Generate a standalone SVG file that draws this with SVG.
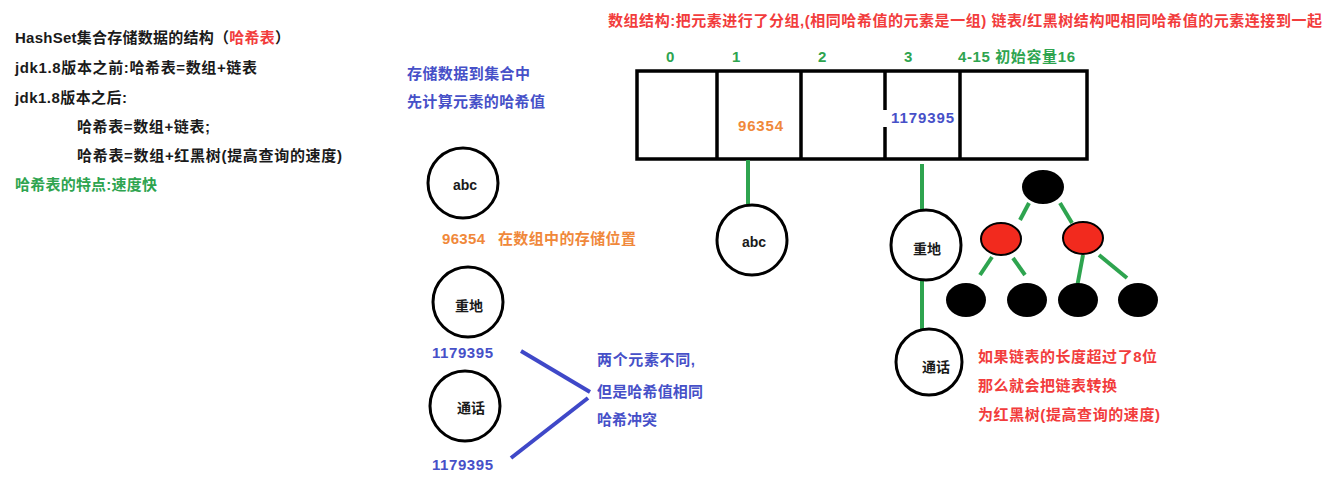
<svg xmlns="http://www.w3.org/2000/svg" width="1334" height="479" viewBox="0 0 1334 479">
<style>
text{font-family:"Liberation Sans","Noto Sans CJK SC",sans-serif;font-weight:bold;font-size:15px}
.k{fill:#1a1a1a}.r{fill:#f23c3c}.o{fill:#f0883a}.b{fill:#4650c8}.g{fill:#2ea44f}
.c{fill:#fff;stroke:#000;stroke-width:3}
.tn{fill:#000}.tr{fill:#f22a1e;stroke:#000;stroke-width:2}
.gl{stroke:#2ea44f;stroke-width:4;fill:none}
.bl{stroke:#3f48c8;stroke-width:4;fill:none}
.box{fill:#fff;stroke:#000;stroke-width:3.5}
.ct{font-size:14px;fill:#1a1a1a}
</style>
<rect width="1334" height="479" fill="#fff"/>
<g id="notes-left">
<text class="k" x="15" y="43" textLength="275">HashSet集合存储数据的结构（<tspan class="r">哈希表</tspan>）</text>
<text class="k" x="15" y="73" textLength="242">jdk1.8版本之前:哈希表=数组+链表</text>
<text class="k" x="15" y="103" textLength="112">jdk1.8版本之后:</text>
<text class="k" x="77" y="132" textLength="133">哈希表=数组+链表;</text>
<text class="k" x="77" y="161" textLength="265">哈希表=数组+红黑树(提高查询的速度)</text>
<text class="g" x="15" y="190" textLength="142">哈希表的特点:速度快</text>
</g>
<g id="notes-blue">
<text class="b" x="407" y="79" textLength="123">存储数据到集合中</text>
<text class="b" x="407" y="107" textLength="138">先计算元素的哈希值</text>
</g>
<g id="title-red">
<text class="r" x="608" y="26" textLength="714">数组结构:把元素进行了分组,(相同哈希值的元素是一组) 链表/红黑树结构吧相同哈希值的元素连接到一起</text>
</g>
<g id="indices">
<text class="g" x="666" y="62">0</text>
<text class="g" x="732" y="62">1</text>
<text class="g" x="818" y="62">2</text>
<text class="g" x="904" y="62">3</text>
<text class="g" x="958" y="62" textLength="117">4-15 初始容量16</text>
</g>
<g id="array">
<rect class="box" x="637" y="71" width="450" height="88"/>
<line x1="717" y1="71" x2="717" y2="159" stroke="#000" stroke-width="3.5"/>
<line x1="801" y1="71" x2="801" y2="159" stroke="#000" stroke-width="3.5"/>
<line x1="885" y1="71" x2="885" y2="159" stroke="#000" stroke-width="3.5"/>
<line x1="960" y1="71" x2="960" y2="159" stroke="#000" stroke-width="3.5"/>
<rect x="882" y="110" width="6" height="17" fill="#fff"/>
<text class="o" x="738" y="131" textLength="45">96354</text>
<text class="b" x="891" y="123" textLength="63">1179395</text>
</g>
<g id="connectors">
<line class="gl" x1="748" y1="160" x2="748" y2="204"/>
<line class="gl" x1="922" y1="164" x2="922" y2="210"/>
<line class="gl" x1="922" y1="280" x2="922" y2="329"/>
<line class="gl" x1="1029" y1="203" x2="1020" y2="220"/>
<line class="gl" x1="1060" y1="203" x2="1072" y2="223"/>
<line class="gl" x1="992" y1="257" x2="980" y2="275"/>
<line class="gl" x1="1013" y1="258" x2="1025" y2="275"/>
<line class="gl" x1="1083" y1="255" x2="1077" y2="287"/>
<line class="gl" x1="1099" y1="255" x2="1127" y2="278"/>
<line class="bl" x1="521" y1="351" x2="590" y2="392"/>
<line class="bl" x1="588" y1="398" x2="511" y2="458"/>
</g>
<g id="node-abc-left"><circle class="c" cx="463" cy="183" r="35"/><text class="ct" x="453" y="190">abc</text></g>
<g id="node-zhongdi-left"><circle class="c" cx="468" cy="302" r="35"/><text class="ct" x="455" y="311">重地</text></g>
<g id="node-tonghua-left"><circle class="c" cx="465" cy="406" r="35"/><text class="ct" x="457" y="413">通话</text></g>
<g id="node-abc-right"><circle class="c" cx="752" cy="240" r="35"/><text class="ct" x="742" y="247">abc</text></g>
<g id="node-zhongdi-right"><circle class="c" cx="926" cy="245" r="35"/><text class="ct" x="913" y="254">重地</text></g>
<g id="node-tonghua-right"><circle class="c" cx="929" cy="362" r="33"/><text class="ct" x="922" y="372">通话</text></g>
<g id="tree">
<ellipse class="tn" cx="1043" cy="187" rx="21" ry="17"/>
<ellipse class="tr" cx="1001" cy="239" rx="20" ry="16"/>
<ellipse class="tr" cx="1083" cy="238" rx="20" ry="16"/>
<ellipse class="tn" cx="966" cy="300" rx="20" ry="17"/>
<ellipse class="tn" cx="1027" cy="300" rx="20" ry="17"/>
<ellipse class="tn" cx="1078" cy="300" rx="20" ry="17"/>
<ellipse class="tn" cx="1138" cy="300" rx="20" ry="17"/>
</g>
<g id="labels-left">
<text class="o" x="442" y="244" textLength="43">96354</text>
<text class="o" x="498" y="244" textLength="138">在数组中的存储位置</text>
<text class="b" x="432" y="358" textLength="61">1179395</text>
<text class="b" x="432" y="470" textLength="61">1179395</text>
<text class="b" x="597" y="365" textLength="98">两个元素不同,</text>
<text class="b" x="597" y="397" textLength="106">但是哈希值相同</text>
<text class="b" x="597" y="425" textLength="60">哈希冲突</text>
</g>
<g id="notes-red-right">
<text class="r" x="978" y="362" textLength="179">如果链表的长度超过了8位</text>
<text class="r" x="978" y="391" textLength="139">那么就会把链表转换</text>
<text class="r" x="978" y="420" textLength="182">为红黑树(提高查询的速度)</text>
</g>
</svg>
